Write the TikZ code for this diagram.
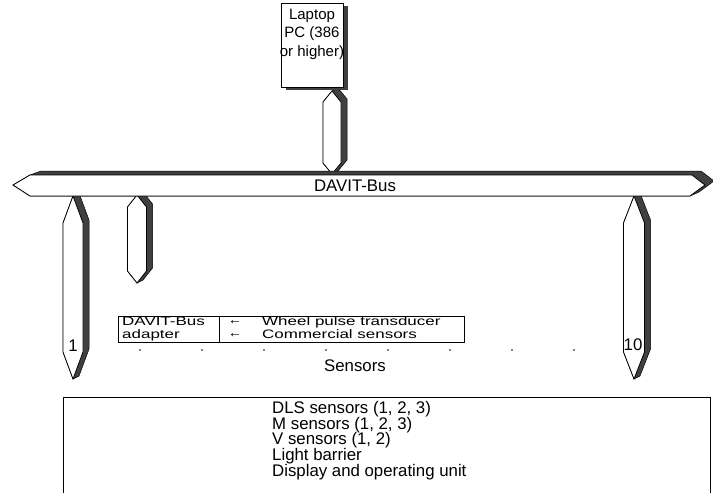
\documentclass[tikz,border=0pt]{standalone}
\usepackage{fontspec}
\setmainfont{Liberation Sans}
\newfontfamily\widefont[FakeStretch=1.38]{Liberation Sans}
\definecolor{shd}{HTML}{404040}
\newcommand\da{6}
\newcommand\db{3}
% vertical prism: cx, ytop, ybottom, halfwidth, shoulder
\newcommand\vprism[5]{%
  \fill[shd,draw=black,line width=0.5pt] ({#1+\da},{#2-\db}) -- ({#1+#4+\da},{#2+#5-\db}) -- ({#1+#4+\da},{#3-#5-\db}) -- ({#1+\da},{#3-\db}) -- (#1,#3) -- ({#1-#4},{#3-#5}) -- ({#1-#4},{#2+#5}) -- (#1,#2) -- cycle;
  \filldraw[face] (#1,#2) -- ({#1-#4},{#2+#5}) -- ({#1-#4},{#3-#5}) -- (#1,#3) -- ({#1+#4},{#3-#5}) -- ({#1+#4},{#2+#5}) -- cycle;
}
\tikzset{
  face/.style={fill=white,draw=black,line width=0.8pt,line join=miter},
  txt/.style={font=\fontsize{16.8}{15.75}\selectfont,inner sep=0pt},
  lap/.style={font=\fontsize{15}{18.5}\selectfont,inner sep=0pt},
  boxtxt/.style={font=\widefont\fontsize{12.3}{12}\selectfont,inner sep=0pt,text height=8.8pt,text depth=2.4pt},
  boxline/.style={draw=black,line width=0.8pt},
}
\begin{document}
\begin{tikzpicture}[x=1pt,y=-1pt]
\useasboundingbox (0,0) rectangle (713,493);
% laptop connector and sensor connectors (behind bus)
\vprism{332}{91}{174}{9}{11}
\vprism{73}{196}{379}{10}{27}
\vprism{137}{195}{283}{9.5}{12}
\vprism{634}{196}{379}{10.5}{27}
% laptop box
\fill[shd] (286,6) rectangle (348,90);
\node[face,minimum width=62pt,minimum height=84pt,inner sep=0pt] (laptop) at (312,45) {};
\node[lap,align=center,anchor=north] (laptoptext) at ([yshift=-6pt]laptop.north) {Laptop\\PC (386\\or higher)};
% bus
\fill[shd,draw=black,line width=0.5pt] (30,175) -- (41,171) -- (701,171) -- (714,181) -- (699,192) -- (690,196) -- (30,196) -- (13,185) -- cycle;
\filldraw[face] (13,185) -- (30,175) -- (692,175) -- (705,185) -- (690,196) -- (30,196) -- cycle;
\node[txt] (buslabel) at (355,186) {DAVIT-Bus};
% adapter box
\node[boxline,minimum width=346pt,minimum height=26pt,inner sep=0pt,anchor=north west] (adapter) at (118,316) {};
\draw[boxline] (219,316) -- (219,342);
\node[boxtxt,anchor=west] (a1) at (122,322.5) {DAVIT-Bus};
\node[boxtxt,anchor=west] (a2) at (122,335.5) {adapter};
\node[txt,anchor=west,font=\fontsize{14}{14}\selectfont] (ar1) at (228,322.5) {←};
\node[txt,anchor=west,font=\fontsize{14}{14}\selectfont] (ar2) at (228,335.5) {←};
\node[boxtxt,anchor=west] (w1) at (262,322.5) {Wheel pulse transducer};
\node[boxtxt,anchor=west] (w2) at (262,335.5) {Commercial sensors};
% dots
\foreach \i in {0,...,7} {
  \fill ({140+62*\i},350) circle (0.9pt);
}
\node[txt] (s1) at (73,346) {1};
\node[txt] (s10) at (633,345) {10};
\node[txt] (sensors) at (355,366) {Sensors};
% bottom box
\draw[boxline] (63,500) -- (63,397) -- (710,397) -- (710,500);
\node[txt,align=left,anchor=north west] (list) at (272,401) {DLS sensors (1, 2, 3)\\M sensors (1, 2, 3)\\V sensors (1, 2)\\Light barrier\\Display and operating unit};
\end{tikzpicture}
\end{document}
